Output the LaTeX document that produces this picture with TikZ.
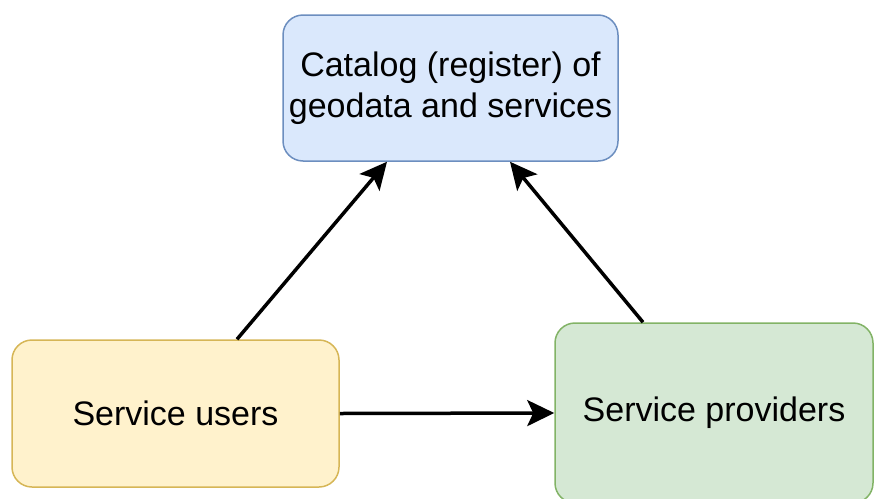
\documentclass[tikz,border=0pt]{standalone}
\usepackage{fontspec}
\setmainfont{Liberation Sans}
\usetikzlibrary{arrows.meta}
\definecolor{bluefill}{HTML}{DAE8FC}
\definecolor{bluedraw}{HTML}{6C8EBF}
\definecolor{yellowfill}{HTML}{FFF2CC}
\definecolor{yellowdraw}{HTML}{D6B656}
\definecolor{greenfill}{HTML}{D5E8D4}
\definecolor{greendraw}{HTML}{82B366}
\tikzset{
  box/.style={rounded corners=20pt, line width=1.5pt, align=center, inner sep=0pt,
    font=\fontsize{34}{41}\selectfont},
  arr/.style={line width=3.5pt, -{Stealth[length=27pt,width=26pt,inset=6pt]}}
}
\begin{document}
\begin{tikzpicture}[x=1pt,y=-1pt]
\useasboundingbox (0,0) rectangle (874,498);
\node[box, draw=bluedraw, fill=bluefill, minimum width=335pt, minimum height=146pt] (cat) at (450.5,88) {Catalog (register) of\\geodata and services};
\node[box, draw=yellowdraw, fill=yellowfill, minimum width=327pt, minimum height=147pt] (su) at (175.5,413.5) {Service users};
\node[box, draw=greendraw, fill=greenfill, minimum width=318pt, minimum height=180pt] (sp) at (714,413) {Service providers};
\draw[arr] ([xshift=61.5pt]su.north) -- ([xshift=-63.5pt]cat.south);
\draw[arr] ([xshift=-71pt]sp.north) -- ([xshift=59.5pt]cat.south);
\draw[arr] (su.east) -- (sp.west);
\end{tikzpicture}
\end{document}
